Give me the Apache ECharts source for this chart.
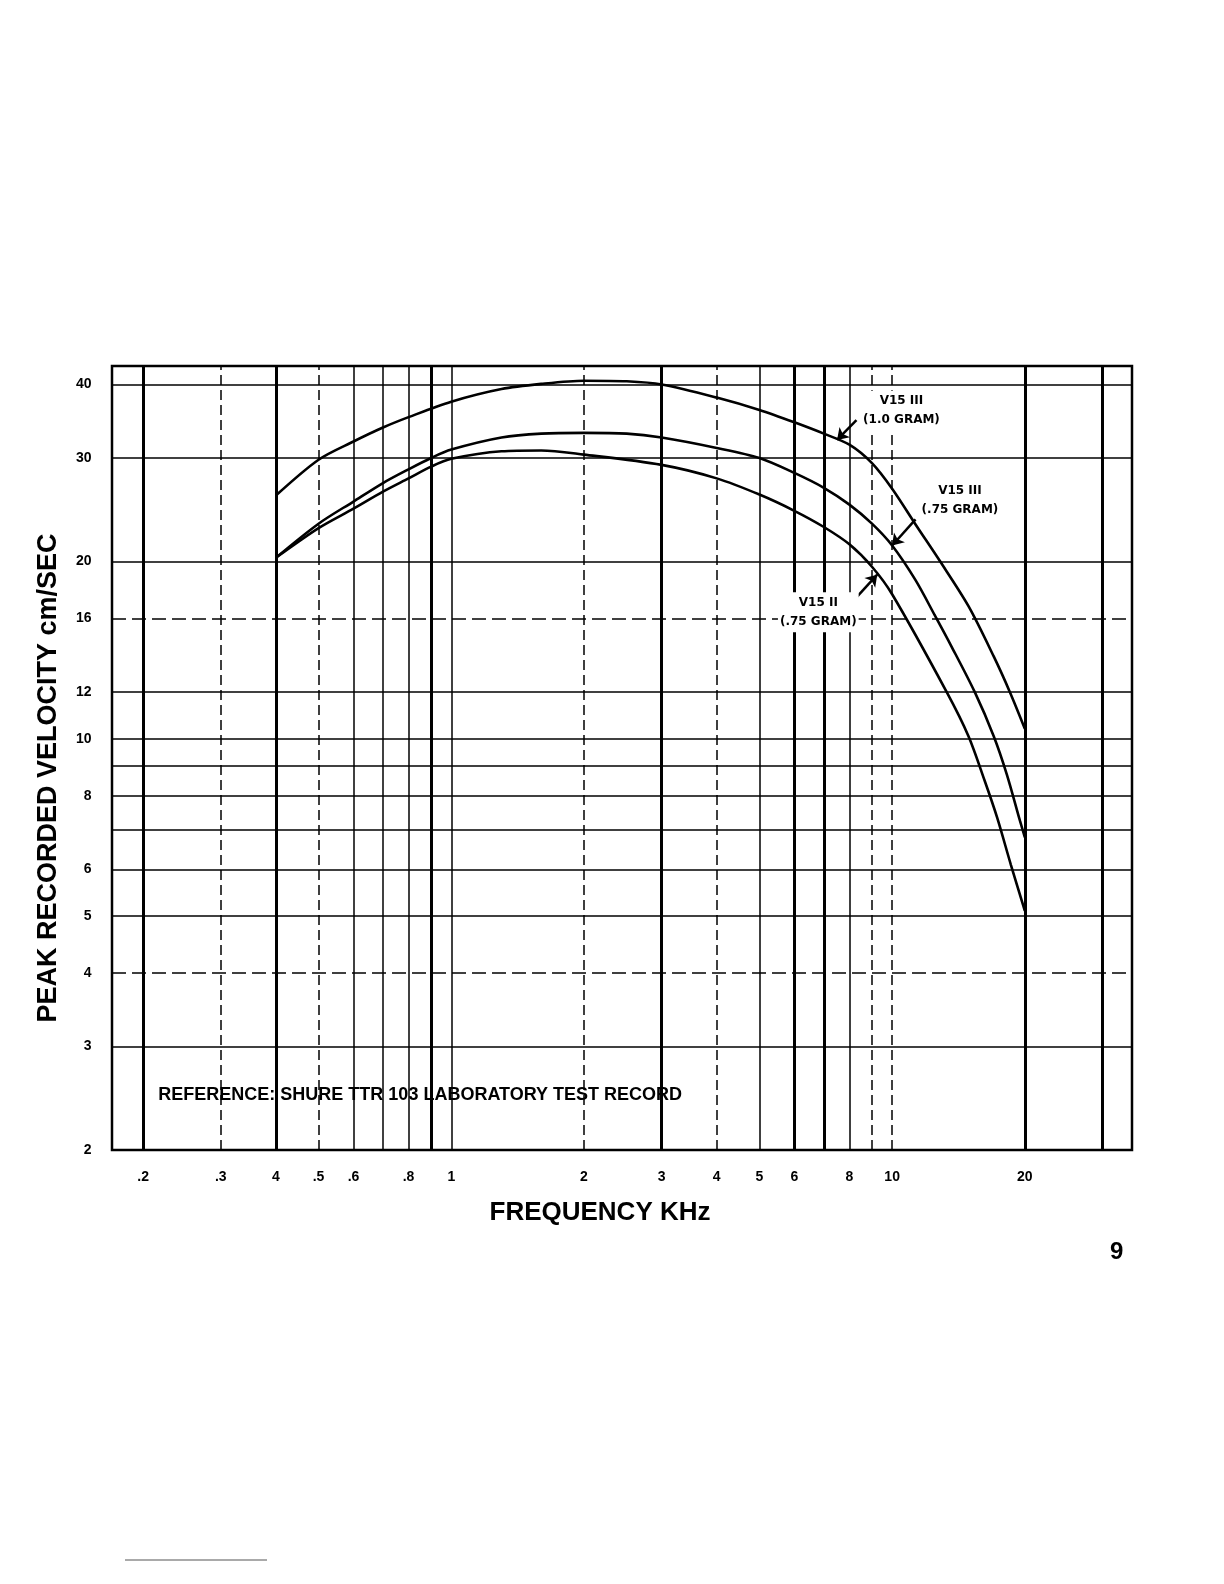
<!DOCTYPE html>
<html>
<head>
<meta charset="utf-8">
<style>
  html, body { margin: 0; padding: 0; background: #fff; }
  #chart { width: 1224px; height: 1584px; }
</style>
<script src="https://cdn.jsdelivr.net/npm/echarts@6/dist/echarts.min.js"></script>
</head>
<body>
<div id="chart"></div>
<script>
// curves: frequency in kHz, peak velocity in cm/sec
var freqTop = [0.4, 0.5, 0.6, 0.7, 0.8, 1.0, 1.3, 1.6, 2.0, 2.5, 3.0, 4.0, 5.0, 6.0, 7.0, 8.0, 9.0, 10, 11.4, 12.8, 14.9, 17, 18.5, 20];
var velTop  = [25.9, 29.8, 32.0, 33.8, 35.2, 37.4, 39.3, 40.1, 40.6, 40.5, 40.0, 38.0, 36.2, 34.5, 33.0, 31.6, 29.4, 26.6, 22.9, 20.1, 16.8, 13.8, 12.0, 10.4];

var freqMid = [0.4, 0.5, 0.6, 0.7, 0.8, 0.9, 1.0, 1.3, 1.6, 2.0, 2.5, 3.0, 4.0, 5.0, 6.0, 7.0, 8.0, 9.0, 10, 11.3, 12.5, 13.6, 15.4, 17, 18.2, 19.5, 20];
var velMid  = [20.3, 23.2, 25.3, 27.2, 28.7, 30.0, 31.0, 32.5, 33.0, 33.1, 33.0, 32.5, 31.2, 30.0, 28.3, 26.7, 25.0, 23.2, 21.3, 18.6, 16.2, 14.4, 12.0, 10.1, 8.7, 7.25, 6.8];

var freqBot = [0.4, 0.5, 0.6, 0.7, 0.8, 0.9, 1.0, 1.3, 1.6, 2.0, 3.0, 4.0, 5.0, 6.0, 7.0, 8.0, 9.0, 10, 13.3, 14.9, 16.2, 17.3, 18.6, 20];
var velBot  = [20.3, 22.8, 24.6, 26.3, 27.7, 29.0, 29.9, 30.8, 30.9, 30.4, 29.2, 27.7, 26.0, 24.4, 22.9, 21.4, 19.6, 17.6, 12.0, 10.1, 8.5, 7.35, 6.1, 5.1];

// graph paper rulings
var gridX = [0.2, 0.3, 0.4, 0.5, 0.6, 0.7, 0.8, 0.9, 1, 2, 3, 4, 5, 6, 7, 8, 9, 10, 20, 30];
var gridY = [3, 4, 5, 6, 7, 8, 9, 10, 12, 16, 20, 30, 40];
var thickX = [0.2, 0.4, 0.9, 3, 6, 7, 20, 30];
var dashedX = [0.3, 0.5, 2, 4, 9, 10];
var dashedY = [4, 16];

// tick labels
var xTicks = [0.2, 0.3, 0.4, 0.5, 0.6, 0.8, 1, 2, 3, 4, 5, 6, 8, 10, 20];
var xTickText = ['.2', '.3', '4', '.5', '.6', '.8', '1', '2', '3', '4', '5', '6', '8', '10', '20'];
var yTicks = [40, 30, 20, 16, 12, 10, 8, 6, 5, 4, 3, 2];

// callouts
var noteText = ['V15 III\n(1.0 GRAM)', 'V15 III\n(.75 GRAM)', 'V15 II\n(.75 GRAM)'];
var noteFreq = [10.5, 14.25, 6.8];
var noteVel  = [36.1, 25.4, 16.4];
var arrowFrom = [[8.3, 34.8], [11.3, 23.6], [8.25, 17.3]];
var arrowTo   = [[7.5, 32.2], [10.0, 21.3], [9.25, 19.0]];

var refText = 'REFERENCE: SHURE TTR 103 LABORATORY TEST RECORD';
var refAt = [0.216, 2.48];

var X_MIN = 0.17, X_MAX = 35, Y_MIN = 2, Y_MAX = 43;

function pairs(xs, ys) {
    return xs.map(function (x, i) { return [x, ys[i]]; });
}

function curve(name, xs, ys) {
    return {
        name: name,
        type: 'line',
        data: pairs(xs, ys),
        smooth: 0.3,
        symbol: 'none',
        lineStyle: { color: '#000', width: 2.6 },
        z: 5
    };
}

var rulings = gridX.map(function (v) {
    return {
        xAxis: v,
        lineStyle: {
            color: '#000',
            width: thickX.indexOf(v) != -1 ? 3 : 1.5,
            type: dashedX.indexOf(v) != -1 ? [10, 5] : 'solid'
        }
    };
}).concat(gridY.map(function (v) {
    return {
        yAxis: v,
        lineStyle: {
            color: '#000',
            width: 1.6,
            type: dashedY.indexOf(v) != -1 ? [14, 6] : 'solid'
        }
    };
}));

var tickFont = { color: '#000', fontFamily: 'Liberation Sans', fontWeight: 'bold', fontSize: 14 };
var hidden = { color: 'rgba(0,0,0,0)', opacity: 1 };

var myChart = echarts.init(document.getElementById('chart'));

myChart.setOption({
    animation: false,
    backgroundColor: '#fff',
    grid: {
        left: 112, right: 92, top: 366, bottom: 434,
        show: true, borderColor: '#000', borderWidth: 2.5, backgroundColor: 'transparent'
    },
    xAxis: {
        type: 'log', logBase: 10, min: X_MIN, max: X_MAX,
        axisLine: { show: false }, axisTick: { show: false },
        axisLabel: { show: false }, splitLine: { show: false },
        name: 'FREQUENCY KHz', nameLocation: 'middle', nameGap: 50,
        nameTextStyle: {
            color: '#000', fontFamily: 'Liberation Sans', fontWeight: 'bold', fontSize: 26,
            padding: [0, 44, 0, 0]
        }
    },
    yAxis: {
        type: 'log', logBase: 10, min: Y_MIN, max: Y_MAX,
        axisLine: { show: false }, axisTick: { show: false },
        axisLabel: { show: false }, splitLine: { show: false },
        name: 'PEAK RECORDED VELOCITY cm/SEC', nameLocation: 'middle', nameGap: 50, nameRotate: 90,
        nameTextStyle: {
            color: '#000', fontFamily: 'Liberation Sans', fontWeight: 'bold', fontSize: 27,
            padding: [0, 40, 0, 0]
        }
    },
    series: [
        // x tick labels, plus the paper rulings
        {
            type: 'scatter',
            data: xTicks.map(function (v) { return [v, Y_MIN]; }),
            symbolSize: 1,
            itemStyle: hidden,
            clip: false,
            silent: true,
            label: {
                show: true, position: 'bottom', distance: 20,
                formatter: function (p) { return xTickText[p.dataIndex]; },
                color: tickFont.color, fontFamily: tickFont.fontFamily,
                fontWeight: tickFont.fontWeight, fontSize: tickFont.fontSize
            },
            markLine: {
                silent: true,
                symbol: ['none', 'none'],
                label: { show: false },
                animation: false,
                data: rulings
            },
            z: 2
        },
        // y tick labels
        {
            type: 'scatter',
            data: yTicks.map(function (v) { return [X_MIN, v]; }),
            symbolSize: 1,
            itemStyle: hidden,
            clip: false,
            silent: true,
            label: {
                show: true, position: 'left', distance: 20,
                formatter: function (p) { return String(yTicks[p.dataIndex]); },
                color: tickFont.color, fontFamily: tickFont.fontFamily,
                fontWeight: tickFont.fontWeight, fontSize: tickFont.fontSize
            }
        },
        curve('V15 III (1.0 GRAM)', freqTop, velTop),
        curve('V15 III (.75 GRAM)', freqMid, velMid),
        curve('V15 II (.75 GRAM)', freqBot, velBot),
        // callouts with arrows
        {
            type: 'scatter',
            data: noteText.map(function (t, i) {
                return { value: [noteFreq[i], noteVel[i]], label: { formatter: t } };
            }),
            symbolSize: 1,
            itemStyle: hidden,
            silent: true,
            label: {
                show: true, position: 'inside', align: 'center', lineHeight: 19,
                color: '#000', fontFamily: 'DejaVu Sans', fontWeight: 'bold', fontSize: 12,
                backgroundColor: '#fff', padding: [1, 2]
            },
            markLine: {
                silent: true,
                symbol: ['none', 'arrow'],
                symbolSize: 11,
                label: { show: false },
                lineStyle: { color: '#000', width: 2.5, type: 'solid' },
                data: arrowFrom.map(function (a, i) {
                    return [{ coord: a }, { coord: arrowTo[i] }];
                })
            },
            z: 8
        },
        // reference note
        {
            type: 'scatter',
            data: [refAt],
            symbolSize: 1,
            itemStyle: hidden,
            silent: true,
            label: {
                show: true, position: 'right', distance: 0,
                formatter: refText,
                color: '#000', fontFamily: 'Liberation Sans', fontWeight: 'bold', fontSize: 18
            },
            z: 8
        }
    ],
    graphic: [
        {
            type: 'text', left: 1110, top: 1240,
            style: { text: '9', fill: '#000', font: 'bold 24px "Liberation Sans"' }
        },
        {
            type: 'line',
            shape: { x1: 125, y1: 1560, x2: 267, y2: 1560 },
            style: { stroke: '#555', lineWidth: 1 }
        }
    ]
});
</script>
</body>
</html>
